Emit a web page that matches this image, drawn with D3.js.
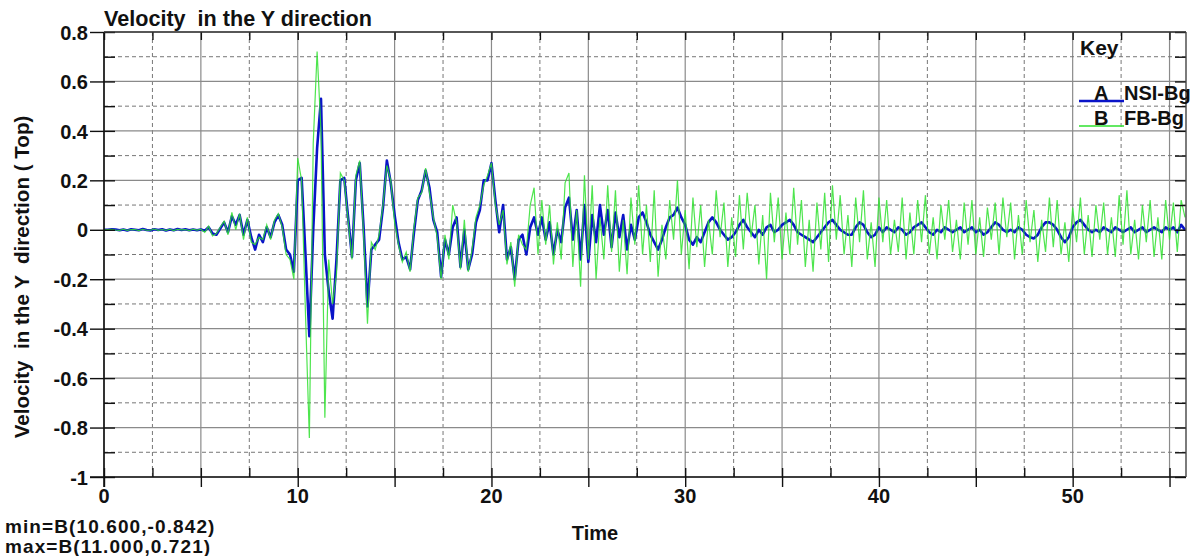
<!DOCTYPE html>
<html>
<head>
<meta charset="utf-8">
<script src="https://cdn.jsdelivr.net/npm/d3@7"></script>
<style>
    body { margin: 0; background: #fff; }
    text { font-family: "Liberation Sans", Arial, sans-serif; font-weight: bold; fill: #111; white-space: pre; }
</style>
</head>
<body>
<div id="chart"></div>
<script>
// sample spacing of both records (seconds)
var timeStep = 0.2;

// A : NSI-Bg  (one row = 2 s)
var nsiBg = [
    0, 0, 0.002, 0.001, -0.002, 0.001, -0.003, 0.002, 0, -0.002,
    0.003, -0.001, -0.003, 0.002, -0.001, 0.002, -0.003, 0.001, -0.002, 0.003,
    -0.001, 0.002, -0.002, 0.001, -0.002, 0.001, -0.004, 0.01, -0.015, -0.02,
    0.005, 0.03, -0.01, 0.055, 0.02, 0.06, -0.02, 0.04, -0.03, -0.08,
    -0.02, -0.05, 0.01, -0.03, 0.03, 0.06, 0.02, -0.08, -0.1, -0.17,
    0.2, 0.21, -0.1, -0.43, 0.0, 0.33, 0.53, -0.1, -0.25, -0.36,
    -0.12, 0.2, 0.21, 0.05, -0.11, 0.2, 0.27, 0.01, -0.31, -0.08,
    -0.06, -0.04, 0.09, 0.28, 0.19, 0.06, -0.05, -0.12, -0.11, -0.16,
    -0.01, 0.12, 0.16, 0.24, 0.17, 0.04, -0.01, -0.19, -0.04, -0.1,
    0.01, 0.05, -0.15, 0.0, -0.16, -0.1, 0.03, 0.08, 0.2, 0.2,
    0.27, 0.12, -0.01, 0.1, -0.12, -0.07, -0.2, -0.04, -0.02, -0.1,
    0.01, 0.05, -0.02, 0.05, -0.04, 0.03, -0.1, 0.0, -0.05, 0.09,
    0.13, -0.04, 0.08, -0.12, 0.1, -0.13, 0.06, -0.05, 0.1, -0.02,
    0.08, -0.07, 0.07, -0.03, 0.06, -0.08, 0.02, -0.04, 0.05, 0.07,
    0.03, -0.02, -0.05, -0.08, -0.04, 0.01, 0.05, 0.06, 0.09, 0.05,
    0.02, -0.04, -0.06, -0.03, -0.05, -0.01, 0.03, 0.05, 0.03, 0.0,
    -0.02, -0.04, -0.03, -0.01, 0.02, 0.04, 0.01, -0.01, -0.03, 0.0,
    -0.02, 0.01, 0.02, -0.01, 0.0, 0.02, 0.03, 0.04, 0.02, -0.01,
    -0.02, -0.03, -0.04, -0.05, -0.03, -0.01, 0.01, 0.03, 0.04, 0.02,
    0.0, -0.01, -0.02, -0.02, 0.01, 0.03, 0.02, -0.01, -0.03, -0.02,
    0.01, -0.01, 0.01, 0.0, -0.01, 0.01, 0.0, -0.02, -0.01, 0.01,
    0.02, 0.03, 0.01, -0.01, -0.02, 0.0, -0.01, 0.01, 0.0, -0.01,
    0.0, 0.01, -0.01, 0.0, 0.01, -0.01, 0.0, -0.02, -0.01, 0.01,
    0.03, 0.02, 0.0, -0.01, 0.0, -0.01, 0.01, 0.0, -0.02, -0.03,
    -0.035, -0.02, 0.01, 0.03, 0.03, 0.02, 0.0, -0.03, -0.05, -0.03,
    0.01, 0.03, 0.04, 0.02, 0.0, -0.01, 0.0, -0.01, 0.01, 0.0,
    -0.01, 0.01, 0.0, -0.01, 0.0, 0.01, -0.01, 0.0, 0.01, -0.01,
    0.0, 0.01, 0.0, -0.01, 0.01, 0.0, 0.01, -0.01, 0.02, 0.0
];

// B : FB-Bg
var fbBg = [
    0, 0.001, 0.002, -0.001, -0.002, 0.002, -0.002, 0.001, 0.001, -0.003,
    0.002, -0.002, -0.002, 0.003, -0.002, 0.001, -0.002, 0.002, -0.003, 0.002,
    0, 0.001, -0.003, 0.002, -0.001, 0.002, -0.01, 0.015, -0.025, -0.015,
    0.01, 0.035, -0.02, 0.07, 0.0, 0.065, -0.04, 0.05, -0.05, -0.06,
    -0.03, -0.04, 0.02, -0.04, 0.04, 0.065, 0.01, -0.1, -0.12, -0.2,
    0.29, 0.2, -0.34, -0.842, 0.35, 0.721, 0.4, -0.76, -0.12, -0.3,
    -0.18, 0.23, 0.2, 0.04, -0.12, 0.22, 0.28, -0.02, -0.38, -0.05,
    -0.08, -0.02, 0.1, 0.26, 0.2, 0.03, -0.06, -0.13, -0.09, -0.17,
    0.01, 0.13, 0.15, 0.25, 0.15, 0.05, -0.03, -0.2, -0.02, -0.12,
    0.1, 0.03, -0.16, 0.04, -0.17, -0.08, 0.05, 0.1, 0.18, 0.22,
    0.27, 0.1, 0.02, 0.08, -0.14, -0.05, -0.23, -0.02, -0.06, -0.08,
    0.1, 0.17, -0.1, 0.12, -0.06, 0.1, -0.14, 0.03, -0.12, 0.19,
    0.23, -0.15, 0.08, -0.23, 0.22, -0.12, 0.18, -0.2, 0.05, -0.12,
    0.18, -0.09, 0.16, -0.17, 0.04, -0.18, 0.13, -0.06, 0.18, -0.1,
    0.1, -0.13, 0.16, -0.19, 0.02, -0.12, 0.12, -0.04, 0.2, -0.1,
    0.08, -0.16, 0.13, -0.07, 0.1, -0.15, 0.04, -0.1, 0.16, -0.03,
    0.11, -0.15, 0.05, -0.11, 0.14, -0.08, 0.15, -0.03, 0.1, -0.14,
    0.06, -0.2, 0.15, -0.05, 0.13, -0.12, 0.07, -0.1, 0.17, -0.06,
    0.12, -0.15, 0.04, -0.17, 0.11, -0.08, 0.15, -0.13, 0.18, -0.04,
    0.14, -0.1, 0.06, -0.15, 0.13, -0.05, 0.16, -0.12, 0.03, -0.15,
    0.13, -0.05, 0.12, -0.1, 0.04, -0.09, 0.13, -0.12, 0.07, -0.1,
    0.12, -0.05, 0.14, -0.1, 0.05, -0.12, 0.1, -0.04, 0.12, -0.09,
    0.04, -0.12, 0.11, -0.06, 0.12, -0.1, 0.05, -0.11, 0.09, -0.04,
    0.11, -0.1, 0.13, -0.03, 0.11, -0.12, 0.06, -0.1, 0.12, -0.05,
    0.08, -0.13, 0.04, -0.09, 0.13, -0.07, 0.12, -0.1, 0.03, -0.13,
    0.09, -0.05, 0.13, -0.1, 0.06, -0.11, 0.1, -0.04, 0.11, -0.1,
    0.05, -0.11, 0.14, -0.06, 0.16, -0.1, 0.04, -0.12, 0.1, -0.05,
    0.12, -0.11, 0.05, -0.12, 0.12, -0.04, 0.11, -0.09, 0.12, 0.05
];

var seriesKeys = ["A", "B"];
var seriesNames = ["NSI-Bg", "FB-Bg"];
var seriesColors = ["#0a14c8", "#2fe02f"];

// axis ticks
var xLabelTicks = [0, 10, 20, 30, 40, 50];
var xMajorTicks = [0, 5, 10, 15, 20, 25, 30, 35, 40, 45, 50, 55];
var xMinorTicks = [2.5, 7.5, 12.5, 17.5, 22.5, 27.5, 32.5, 37.5, 42.5, 47.5, 52.5];
var yMajorTicks = [0.8, 0.6, 0.4, 0.2, 0, -0.2, -0.4, -0.6, -0.8, -1];
var yMinorTicks = [0.7, 0.5, 0.3, 0.1, -0.1, -0.3, -0.5, -0.7, -0.9];

var minText = "min=B(10.600,-0.842)";
var maxText = "max=B(11.000,0.721)";

var width = 1202, height = 556;
var plotLeft = 104, plotTop = 32, plotRight = 1186, plotBottom = 477;

var svg = d3.select("#chart")
    .append("svg")
    .attr("width", width)
    .attr("height", height);

svg.append("rect")
    .attr("width", width)
    .attr("height", height)
    .attr("fill", "white");

var x = d3.scaleLinear().domain([0, 55.85]).range([plotLeft, plotRight]);
var y = d3.scaleLinear().domain([-1, 0.8]).range([plotBottom, plotTop]);

// grid
var grid = svg.append("g");
grid.selectAll(".vmaj").data(xMajorTicks).enter().append("line")
    .attr("x1", d => x(d)).attr("x2", d => x(d))
    .attr("y1", plotTop).attr("y2", plotBottom)
    .attr("stroke", "#8a8a8a").attr("stroke-width", 1.2);
grid.selectAll(".vmin").data(xMinorTicks).enter().append("line")
    .attr("x1", d => x(d)).attr("x2", d => x(d))
    .attr("y1", plotTop).attr("y2", plotBottom)
    .attr("stroke", "#777").attr("stroke-width", 1).attr("stroke-dasharray", "4,3");
grid.selectAll(".hmaj").data(yMajorTicks).enter().append("line")
    .attr("x1", plotLeft).attr("x2", plotRight)
    .attr("y1", d => y(d)).attr("y2", d => y(d))
    .attr("stroke", "#8a8a8a").attr("stroke-width", 1.2);
grid.selectAll(".hmin").data(yMinorTicks).enter().append("line")
    .attr("x1", plotLeft).attr("x2", plotRight)
    .attr("y1", d => y(d)).attr("y2", d => y(d))
    .attr("stroke", "#777").attr("stroke-width", 1).attr("stroke-dasharray", "4,3");

// the two records
var line = d3.line()
    .x((d, i) => x(i * timeStep))
    .y(d => y(d));

svg.append("path")
    .datum(nsiBg)
    .attr("d", line)
    .attr("fill", "none")
    .attr("stroke", seriesColors[0])
    .attr("stroke-width", 2.6)
    .attr("stroke-linejoin", "round");

svg.append("path")
    .datum(fbBg)
    .attr("d", line)
    .attr("fill", "none")
    .attr("stroke", seriesColors[1])
    .attr("stroke-width", 1.2)
    .attr("stroke-opacity", 0.85);

// ticks: outward majors, inward everything
function tickFmt(d) { return String(+d.toFixed(1)); }

svg.append("g")
    .attr("transform", "translate(" + plotLeft + ",0)")
    .call(d3.axisLeft(y).tickValues(yMajorTicks).tickSize(14).tickPadding(2).tickFormat(tickFmt))
    .call(g => g.select(".domain").remove())
    .call(g => g.selectAll("text").attr("font-size", 20).attr("dy", "0.36em"));
svg.append("g")
    .attr("transform", "translate(" + plotLeft + ",0)")
    .call(d3.axisRight(y).tickValues(yMajorTicks.concat(yMinorTicks)).tickSize(11).tickFormat(""))
    .call(g => g.select(".domain").remove());
svg.append("g")
    .attr("transform", "translate(" + plotRight + ",0)")
    .call(d3.axisLeft(y).tickValues(yMajorTicks.concat(yMinorTicks)).tickSize(11).tickFormat(""))
    .call(g => g.select(".domain").remove());

svg.append("g")
    .attr("transform", "translate(0," + plotBottom + ")")
    .call(d3.axisBottom(x).tickValues(xMajorTicks).tickSize(10).tickFormat(""))
    .call(g => g.select(".domain").remove());
svg.append("g")
    .attr("transform", "translate(0," + plotBottom + ")")
    .call(d3.axisTop(x).tickValues(xMajorTicks.concat(xMinorTicks)).tickSize(9).tickFormat(""))
    .call(g => g.select(".domain").remove());
svg.append("g")
    .attr("transform", "translate(0," + plotTop + ")")
    .call(d3.axisBottom(x).tickValues(xMajorTicks.concat(xMinorTicks)).tickSize(8).tickFormat(""))
    .call(g => g.select(".domain").remove());

svg.selectAll(".tick line").attr("stroke", "#111").attr("stroke-width", 1.4);

svg.selectAll(".xlab").data(xLabelTicks).enter().append("text")
    .attr("x", d => x(d))
    .attr("y", 503)
    .attr("text-anchor", "middle")
    .attr("font-size", 20)
    .text(d => d);

// frame
svg.append("line").attr("x1", plotLeft).attr("x2", plotLeft).attr("y1", plotTop).attr("y2", plotBottom + 10)
    .attr("stroke", "#111").attr("stroke-width", 1.6);
svg.append("line").attr("x1", plotLeft - 14).attr("x2", plotRight).attr("y1", plotBottom).attr("y2", plotBottom)
    .attr("stroke", "#111").attr("stroke-width", 1.6);
svg.append("line").attr("x1", plotLeft).attr("x2", plotRight).attr("y1", plotTop).attr("y2", plotTop)
    .attr("stroke", "#333").attr("stroke-width", 1.4);
svg.append("line").attr("x1", plotRight).attr("x2", plotRight).attr("y1", plotTop).attr("y2", plotBottom)
    .attr("stroke", "#444").attr("stroke-width", 1.4);

// titles
svg.append("text")
    .attr("x", plotLeft)
    .attr("y", 26)
    .attr("font-size", 21.6)
    .text("Velocity  in the Y direction");

svg.append("text")
    .attr("transform", "translate(29,277) rotate(-90)")
    .attr("text-anchor", "middle")
    .attr("font-size", 20.6)
    .text("Velocity  in the Y  direction ( Top)");

svg.append("text")
    .attr("x", 595)
    .attr("y", 540)
    .attr("text-anchor", "middle")
    .attr("font-size", 20)
    .text("Time");

svg.append("text").attr("x", 5).attr("y", 533).attr("font-size", 19)
    .attr("letter-spacing", 1.1).text(minText);
svg.append("text").attr("x", 5).attr("y", 553).attr("font-size", 19)
    .attr("letter-spacing", 1.1).text(maxText);

// key
svg.append("text").attr("x", 1080).attr("y", 55).attr("font-size", 21).text("Key");
seriesKeys.forEach(function(k, i) {
    var ly = 101 + i * 25;
    svg.append("line")
        .attr("x1", 1079).attr("x2", 1124)
        .attr("y1", ly).attr("y2", ly)
        .attr("stroke", seriesColors[i])
        .attr("stroke-width", i == 0 ? 2.4 : 1.4);
    svg.append("text").attr("x", 1094).attr("y", ly - 1).attr("font-size", 20).text(k);
    svg.append("text").attr("x", 1124).attr("y", ly - 1).attr("font-size", 20).text(seriesNames[i]);
});
</script>
</body>
</html>
